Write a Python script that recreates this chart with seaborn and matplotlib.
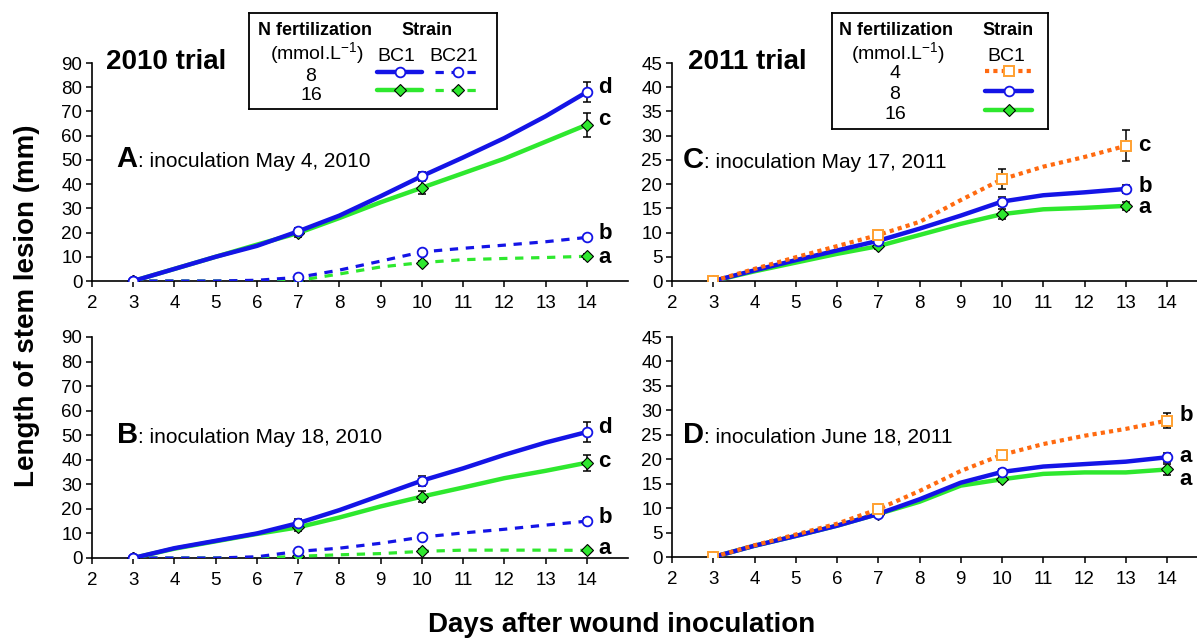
import numpy as np
import pandas as pd
import matplotlib
matplotlib.use("Agg")
import matplotlib.pyplot as plt
import seaborn as sns
from matplotlib.lines import Line2D

# ---------------- data ----------------
days = [3, 4, 5, 6, 7, 8, 9, 10, 11, 12, 13, 14]
days_c = [3, 4, 5, 6, 7, 8, 9, 10, 11, 12, 13]
mark_days = [3, 7, 10, 14]
mark_days_c = [3, 7, 10, 13]
x_ticks = [2, 3, 4, 5, 6, 7, 8, 9, 10, 11, 12, 13, 14]

# Panel A: inoculation May 4, 2010
a_bc1_8 = [0, 5, 10, 14.5, 20.5, 27, 35, 43.3, 51, 59, 68, 78]
a_bc1_16 = [0, 5, 10, 15, 19.8, 26, 32.5, 38.5, 44.5, 50.5, 57.5, 64.5]
a_bc21_8 = [0, 0, 0, 0.3, 1.5, 4.5, 8.2, 12, 13.5, 14.8, 16.2, 18]
a_bc21_16 = [0, 0, 0, 0, 0.2, 2.9, 5.8, 7.6, 8.8, 9.3, 9.7, 10.2]
a_err_bc1_8 = [0.3, 1.5, 1.5, 4.1]
a_err_bc1_16 = [0.3, 1.5, 2.7, 5.0]
a_err_bc21_8 = [0.2, 0.5, 0.8, 1.0]
a_err_bc21_16 = [0.2, 0.3, 0.8, 1.0]
a_letters = ["d", "c", "b", "a"]
a_letter_y = [80, 66.5, 19.7, 9.5]

# Panel B: inoculation May 18, 2010
b_bc1_8 = [0, 4, 7, 10, 14.2, 19.5, 25.5, 31.5, 36.5, 42, 47, 51.3]
b_bc1_16 = [0, 3.8, 6.8, 9.8, 12.5, 16.5, 21, 25, 28.7, 32.5, 35.5, 38.8]
b_bc21_8 = [0, 0, 0, 0.5, 2.7, 4, 6, 8.5, 10.2, 11.7, 13.4, 15]
b_bc21_16 = [0, 0, 0, 0, 0.7, 1.3, 1.8, 2.7, 3.2, 3.2, 3.2, 3.1]
b_err_bc1_8 = [0.3, 1.5, 2.0, 4.0]
b_err_bc1_16 = [0.3, 1.5, 2.2, 3.2]
b_err_bc21_8 = [0.2, 1.0, 0.6, 1.2]
b_err_bc21_16 = [0.2, 0.5, 0.8, 0.5]
b_letters = ["d", "c", "b", "a"]
b_letter_y = [53, 39.5, 16.5, 4]

# Panel C: inoculation May 17, 2011
c_n4 = [0, 2.5, 4.9, 7.2, 9.5, 12.2, 16.7, 21, 23.6, 25.6, 27.9]
c_n8 = [0, 2.2, 4.3, 6.3, 8.3, 10.8, 13.5, 16.4, 17.7, 18.3, 19]
c_n16 = [0, 2.0, 3.8, 5.6, 7.2, 9.5, 11.8, 13.8, 14.8, 15.1, 15.5]
c_err_n4 = [0.3, 0.5, 2.1, 3.2]
c_err_n8 = [0.3, 0.6, 1.0, 0.8]
c_err_n16 = [0.3, 0.6, 1.0, 0.8]
c_letters = ["c", "b", "a"]
c_letter_y = [28, 19.6, 15.1]

# Panel D: inoculation June 18, 2011
d_n4 = [0, 2.4, 4.6, 6.8, 9.8, 13.5, 17.6, 20.9, 23.1, 24.8, 26.2, 27.9]
d_n8 = [0, 2.3, 4.3, 6.4, 8.8, 11.8, 15.2, 17.4, 18.5, 19, 19.5, 20.4]
d_n16 = [0, 2.3, 4.3, 6.4, 8.8, 11.3, 14.6, 15.9, 17, 17.3, 17.3, 17.9]
d_err_n4 = [0.3, 0.6, 0.6, 1.6]
d_err_n8 = [0.3, 0.6, 0.6, 0.9]
d_err_n16 = [0.3, 0.6, 0.6, 1.2]
d_letters = ["b", "a", "a"]
d_letter_y = [29, 20.5, 15.9]

# ---------------- style ----------------
sns.set_style("ticks")
plt.rcParams["font.family"] = ["Liberation Sans", "DejaVu Sans"]
plt.rcParams["mathtext.fontset"] = "custom"
plt.rcParams["mathtext.rm"] = "Liberation Sans"
for k in ["text.color", "axes.labelcolor", "xtick.color", "ytick.color", "axes.edgecolor"]:
    plt.rcParams[k] = "black"

BLUE = "#1414E6"
GREEN = "#2EE82E"
ORANGE = "#FF6A10"
ORANGE_M = "#FFA030"

W, H = 1197, 639
fig = plt.figure(figsize=(W / 100, H / 100), dpi=100)


def rect(left, right, top, bottom):
    return [left / W, 1 - bottom / H, (right - left) / W, (bottom - top) / H]


STY = {
    "bc1_8": dict(color=BLUE, lw=3.2, ls="-", marker="o", ms=7, mfc="white", mec=BLUE, mew=1.3),
    "bc1_16": dict(color=GREEN, lw=3.2, ls="-", marker="D", ms=6.5, mfc=GREEN, mec="black", mew=0.8),
    "bc21_8": dict(color=BLUE, lw=2.3, ls=(0, (2.6, 2.4)), marker="o", ms=7, mfc="white", mec=BLUE, mew=1.3),
    "bc21_16": dict(color=GREEN, lw=2.3, ls=(0, (2.6, 2.4)), marker="D", ms=6.5, mfc=GREEN, mec="black", mew=0.8),
    "n4": dict(color=ORANGE, lw=3.0, ls=(0, (1, 1)), marker="s", ms=7.5, mfc="white", mec=ORANGE_M, mew=1.4),
}


def draw_series(ax, x, y, mdays, err, key):
    s = STY[key]
    df = pd.DataFrame({"day": x, "len": y})
    idx = [x.index(d) for d in mdays]
    ax.errorbar(mdays, [y[i] for i in idx], yerr=err, fmt="none", ecolor="black",
                elinewidth=1.1, capsize=2.8, capthick=1.1, zorder=2)
    sns.lineplot(data=df, x="day", y="len", ax=ax, color=s["color"], linewidth=s["lw"],
                 linestyle=s["ls"], marker=s["marker"], markevery=idx, markersize=s["ms"],
                 markerfacecolor=s["mfc"], markeredgecolor=s["mec"], markeredgewidth=s["mew"],
                 estimator=None, errorbar=None, zorder=3)


def style_axis(ax, ymax, ystep, xmax):
    ax.set_xlim(2, xmax)
    ax.set_ylim(0, ymax)
    ax.set_xticks(x_ticks)
    ax.set_yticks(np.arange(0, ymax + 0.1, ystep))
    sns.despine(ax=ax)
    for sp in ["left", "bottom"]:
        ax.spines[sp].set_linewidth(1.2)
        ax.spines[sp].set_color("black")
    ax.tick_params(axis="both", length=4, width=1.1, color="black", labelcolor="black",
                   labelsize=13.5, pad=3)
    ax.tick_params(axis="x", pad=6)
    ax.set_xlabel("")
    ax.set_ylabel("")


def panel_label(ax, letter, rest, xf, yf):
    t1 = ax.text(xf, yf, letter, transform=ax.transAxes, fontsize=21, fontweight="bold",
                 va="baseline", ha="left")
    r = fig.canvas.get_renderer()
    bb = t1.get_window_extent(renderer=r)
    xa = ax.transAxes.inverted().transform((bb.x1, bb.y0))[0]
    ax.text(xa, yf, rest, transform=ax.transAxes, fontsize=15, va="baseline", ha="left")


def letters(ax, xs, ys, labs):
    for xv, yv, lab in zip(xs, ys, labs):
        ax.text(xv, yv, lab, fontsize=16, fontweight="bold", va="center", ha="left")


xmax_c = 2 + (1197 - 672) / 41.25

axA = fig.add_axes(rect(92, 628, 63, 281))
axB = fig.add_axes(rect(92, 628, 337, 558))
axC = fig.add_axes(rect(672, 1197, 63, 281))
axD = fig.add_axes(rect(672, 1197, 337, 557))

# Panel A
draw_series(axA, days, a_bc21_16, mark_days, a_err_bc21_16, "bc21_16")
draw_series(axA, days, a_bc21_8, mark_days, a_err_bc21_8, "bc21_8")
draw_series(axA, days, a_bc1_16, mark_days, a_err_bc1_16, "bc1_16")
draw_series(axA, days, a_bc1_8, mark_days, a_err_bc1_8, "bc1_8")
style_axis(axA, 90, 10, 15)
letters(axA, [14.28] * 4, a_letter_y, a_letters)

# Panel B
draw_series(axB, days, b_bc21_16, mark_days, b_err_bc21_16, "bc21_16")
draw_series(axB, days, b_bc21_8, mark_days, b_err_bc21_8, "bc21_8")
draw_series(axB, days, b_bc1_16, mark_days, b_err_bc1_16, "bc1_16")
draw_series(axB, days, b_bc1_8, mark_days, b_err_bc1_8, "bc1_8")
style_axis(axB, 90, 10, 15)
letters(axB, [14.28] * 4, b_letter_y, b_letters)

# Panel C
draw_series(axC, days_c, c_n16, mark_days_c, c_err_n16, "bc1_16")
draw_series(axC, days_c, c_n8, mark_days_c, c_err_n8, "bc1_8")
draw_series(axC, days_c, c_n4, mark_days_c, c_err_n4, "n4")
style_axis(axC, 45, 5, xmax_c)
letters(axC, [13.3] * 3, c_letter_y, c_letters)

# Panel D
draw_series(axD, days, d_n16, mark_days, d_err_n16, "bc1_16")
draw_series(axD, days, d_n8, mark_days, d_err_n8, "bc1_8")
draw_series(axD, days, d_n4, mark_days, d_err_n4, "n4")
style_axis(axD, 45, 5, xmax_c)
letters(axD, [14.3] * 3, d_letter_y, d_letters)

fig.canvas.draw()
panel_label(axA, "A", ": inoculation May 4, 2010", 0.046, 0.525)
panel_label(axB, "B", ": inoculation May 18, 2010", 0.046, 0.52)
panel_label(axC, "C", ": inoculation May 17, 2011", 0.021, 0.52)
panel_label(axD, "D", ": inoculation June 18, 2011", 0.021, 0.52)

# trial titles
fig.text(106 / W, 1 - 69 / H, "2010 trial", fontsize=20, fontweight="bold", va="baseline", ha="left")
fig.text(688 / W, 1 - 69 / H, "2011 trial", fontsize=20, fontweight="bold", va="baseline", ha="left")

# axis titles
fig.text(40 / W, 1 - 306 / H, "Length of stem lesion (mm)", rotation=90, fontsize=20,
         fontweight="bold", ha="right", va="center")
fig.text(622 / W, 1 - 632 / H, "Days after wound inoculation", fontsize=20,
         fontweight="bold", ha="center", va="baseline")


# ---------------- legends (boxed keys) ----------------
def legend_axes(l, r, t, b):
    lg = fig.add_axes(rect(l, r, t, b))
    lg.set_xlim(l, r)
    lg.set_ylim(b, t)
    lg.set_xticks([])
    lg.set_yticks([])
    for sp in lg.spines.values():
        sp.set_visible(True)
        sp.set_linewidth(1.3)
        sp.set_color("black")
    lg.set_facecolor("white")
    return lg


def key(lg, x0, x1, y, k):
    s = STY[k]
    lg.add_line(Line2D([x0, x1], [y, y], color=s["color"], lw=s["lw"], ls=s["ls"]))
    lg.add_line(Line2D([(x0 + x1) / 2], [y], ls="none", marker=s["marker"], ms=s["ms"],
                       mfc=s["mfc"], mec=s["mec"], mew=s["mew"]))


lgA = legend_axes(249, 497, 13, 109)
lgA.text(258, 35, "N fertilization", fontsize=13, fontweight="bold", va="baseline", ha="left")
lgA.text(427, 35, "Strain", fontsize=13, fontweight="bold", va="baseline", ha="center")
lgA.text(317, 60, "(mmol.L$^{\\mathregular{-1}}$)", fontsize=14, va="baseline", ha="center")
lgA.text(396, 61, "BC1", fontsize=14, va="baseline", ha="center")
lgA.text(454, 61, "BC21", fontsize=14, va="baseline", ha="center")
lgA.text(311, 81, "8", fontsize=14, va="baseline", ha="center")
lgA.text(311, 100, "16", fontsize=14, va="baseline", ha="center")
key(lgA, 377, 422, 72, "bc1_8")
key(lgA, 435, 480, 72, "bc21_8")
key(lgA, 377, 422, 90, "bc1_16")
key(lgA, 435, 480, 90, "bc21_16")

lgC = legend_axes(832, 1048, 13, 129)
lgC.text(839, 35, "N fertilization", fontsize=13, fontweight="bold", va="baseline", ha="left")
lgC.text(1008, 35, "Strain", fontsize=13, fontweight="bold", va="baseline", ha="center")
lgC.text(898, 60, "(mmol.L$^{\\mathregular{-1}}$)", fontsize=14, va="baseline", ha="center")
lgC.text(1006, 61, "BC1", fontsize=14, va="baseline", ha="center")
lgC.text(895, 78, "4", fontsize=14, va="baseline", ha="center")
lgC.text(895, 99, "8", fontsize=14, va="baseline", ha="center")
lgC.text(895, 119, "16", fontsize=14, va="baseline", ha="center")
key(lgC, 985, 1032, 71, "n4")
key(lgC, 985, 1032, 91, "bc1_8")
key(lgC, 985, 1032, 110, "bc1_16")

fig.savefig("out.png", dpi=100)
